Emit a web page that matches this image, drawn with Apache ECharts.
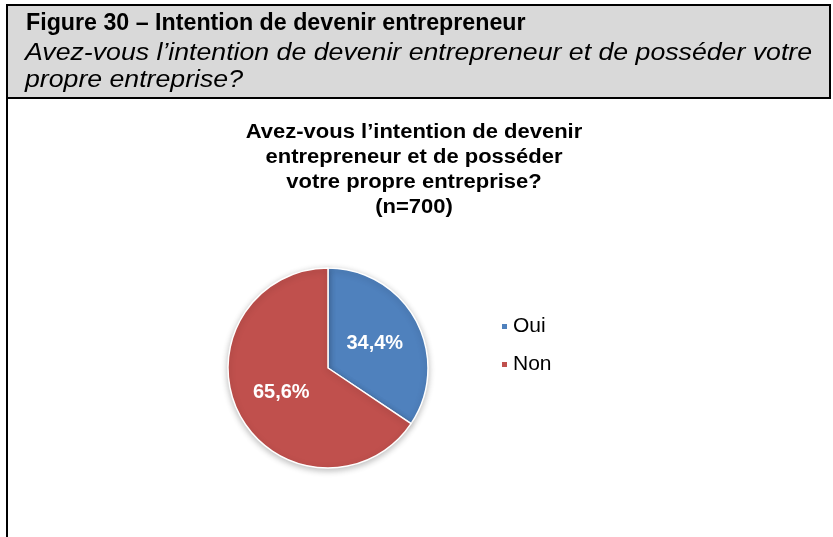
<!DOCTYPE html>
<html>
<head>
<meta charset="utf-8">
<script src="https://cdn.jsdelivr.net/npm/echarts@6/dist/echarts.min.js"></script>
<style>
  html, body { margin: 0; padding: 0; background: #fff; }
  #chart { width: 833px; height: 537px; }
</style>
</head>
<body>
<div id="chart"></div>
<script>
// Survey answers and their shares (%)
const categories = ['Oui', 'Non'];
const shares = [34.4, 65.6];
const sliceColors = ['#4F81BD', '#C0504D'];

const figureTitle = 'Figure 30 – Intention de devenir entrepreneur';
const figureQuestionLines = [
  'Avez-vous l’intention de devenir entrepreneur et de posséder votre',
  'propre entreprise?'
];
const chartTitleLines = [
  'Avez-vous l’intention de devenir',
  'entrepreneur et de posséder',
  'votre propre entreprise?',
  '(n=700)'
];

const FONT = 'Arial, "Liberation Sans", Helvetica, sans-serif';

// Header band text + frame
const headerGraphics = [
  {
    type: 'rect', z: -10, silent: true,
    shape: { x: 7, y: 5, width: 823, height: 93 },
    style: { fill: '#d9d9d9', stroke: '#000', lineWidth: 2 }
  },
  {
    type: 'line', z: -10, silent: true,
    shape: { x1: 7, y1: 98, x2: 7, y2: 537 },
    style: { stroke: '#000', lineWidth: 2 }
  },
  {
    type: 'text', silent: true, x: 26, y: 24, scaleX: 1.01,
    style: {
      text: figureTitle, fill: '#000',
      font: 'bold 23px ' + FONT, verticalAlign: 'middle', align: 'left'
    }
  }
];
figureQuestionLines.forEach((line, i) => {
  headerGraphics.push({
    type: 'text', silent: true, x: 25, y: 54 + i * 27, scaleX: 1.16,
    style: {
      text: line, fill: '#000',
      font: 'italic 23px ' + FONT, verticalAlign: 'middle', align: 'left'
    }
  });
});
// Chart title, centred above the pie
chartTitleLines.forEach((line, i) => {
  headerGraphics.push({
    type: 'text', silent: true, x: 414, y: 132 + i * 25, scaleX: 1.1,
    style: {
      text: line, fill: '#000',
      font: 'bold 20px ' + FONT, verticalAlign: 'middle', align: 'center'
    }
  });
});

const chart = echarts.init(document.getElementById('chart'), null, { renderer: 'canvas' });

chart.setOption({
  backgroundColor: '#ffffff',
  animation: false,
  graphic: headerGraphics,
  legend: {
    orient: 'vertical',
    left: 500, top: 316,
    padding: 0,
    itemWidth: 7, itemHeight: 7, itemGap: 17,
    icon: 'rect',
    textStyle: { fontFamily: FONT, fontSize: 21, color: '#000', padding: [0, 0, 0, 0] },
    data: categories
  },
  series: [{
    type: 'pie',
    center: [328, 368],
    radius: [0, 100],
    startAngle: 90,
    clockwise: true,
    data: categories.map((name, i) => ({
      name, value: shares[i],
      itemStyle: { color: sliceColors[i] }
    })),
    itemStyle: {
      borderColor: '#ffffff', borderWidth: 1.5,
      shadowColor: 'rgba(0,0,0,0.25)', shadowBlur: 6, shadowOffsetY: 2
    },
    label: {
      show: true,
      position: 'inside',
      formatter: p => p.value.toFixed(1).replace('.', ',') + '%',
      fontFamily: FONT, fontSize: 20, fontWeight: 'bold', color: '#ffffff'
    },
    labelLine: { show: false },
    emphasis: { disabled: true }
  }]
});
</script>
</body>
</html>
